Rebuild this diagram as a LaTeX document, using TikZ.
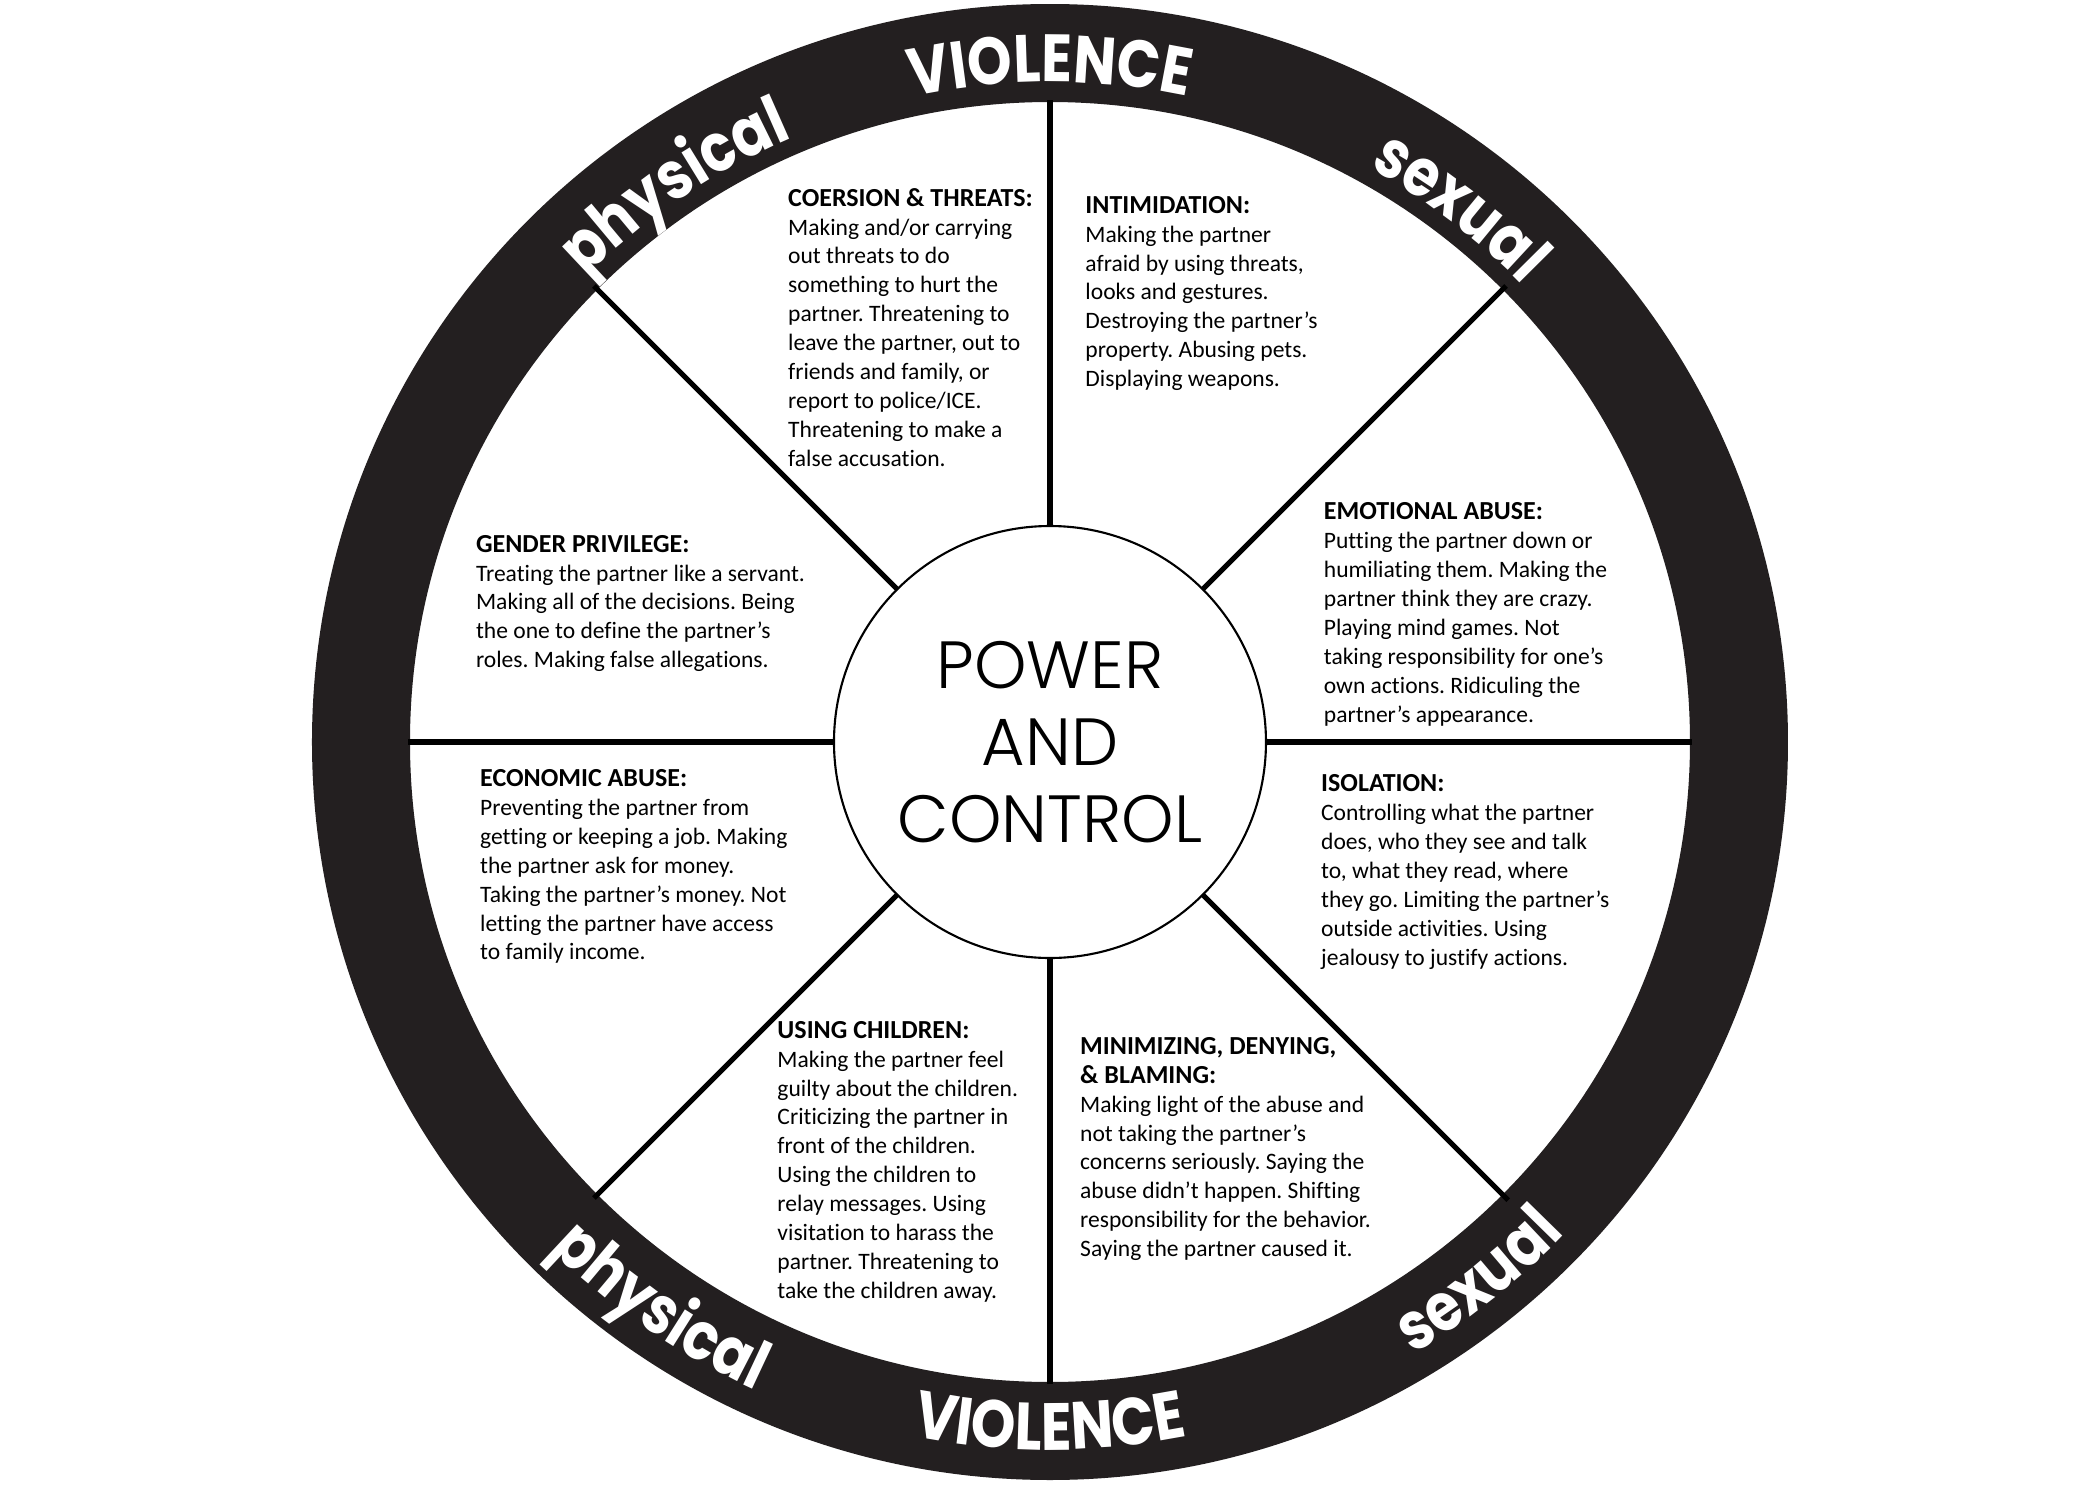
\documentclass[tikz,border=0pt]{standalone}
\usepackage{fontspec}
\setmainfont{Carlito}[Ligatures=NoCommon]
\IfFontExistsTF{Poppins Light}{\newfontfamily\hubfont{Poppins Light}}{\newfontfamily\hubfont{Poppins}}
\newfontfamily\ringfont{Poppins}[FakeStretch=0.85]
\usetikzlibrary{decorations.text}
\definecolor{ringblack}{RGB}{35,31,32}
\newcommand\ringword{\ringfont\bfseries\fontsize{19}{19}\selectfont\color{white}}
\newcommand\head[1]{{\bfseries\fontsize{7.4}{8.22}\selectfont #1}}
\frenchspacing

\begin{document}
\begin{tikzpicture}[
  spoke/.style={line width=1.5pt},
  block/.style={anchor=north west,inner sep=0pt,align=left,font=\fontsize{6.7}{8.22}\selectfont},
  hub/.style={draw,circle,line width=0.6pt,minimum size=4.32cm,inner sep=0pt,outer sep=0pt,
    font=\hubfont\fontsize{19}{21.9}\selectfont,align=center}
]
\useasboundingbox[fill=white] (-10.500,-7.580) rectangle (10.500,7.420);
% black rim
\fill[ringblack,even odd rule] (0,0) circle (7.38) (0,0) circle (6.40);
% hub
\node[hub] (hub) at (0,0) {POWER\\AND\\CONTROL};
\coordinate (rim0) at (0:6.42);
\coordinate (rim45) at (45:6.45);
\coordinate (rim90) at (90:6.42);
\coordinate (rim135) at (135:6.45);
\coordinate (rim180) at (180:6.42);
\coordinate (rim225) at (225:6.45);
\coordinate (rim270) at (270:6.42);
\coordinate (rim315) at (315:6.48);
\draw[spoke] (hub.0) -- (rim0);
\draw[spoke] (hub.45) -- (rim45);
\draw[spoke] (hub.90) -- (rim90);
\draw[spoke] (hub.135) -- (rim135);
\draw[spoke] (hub.180) -- (rim180);
\draw[spoke] (hub.225) -- (rim225);
\draw[spoke] (hub.270) -- (rim270);
\draw[spoke] (hub.315) -- (rim315);
% words on the rim
\path[decorate,decoration={text along path,text align=center,text={|\ringword|VIOLENCE}}] (130:6.60) arc[start angle=130,end angle=50,radius=6.60];
\path[decorate,decoration={text along path,text align=center,text={|\ringword|physical}}] (164:6.57) arc[start angle=164,end angle=84,radius=6.57];
\path[decorate,decoration={text along path,text align=center,text={|\ringword|sexual}}] (92.5:6.57) arc[start angle=92.5,end angle=12.5,radius=6.57];
\path[decorate,decoration={text along path,text align=center,text={|\ringword|VIOLENCE}}] (230:7.08) arc[start angle=230,end angle=310,radius=7.08];
\path[decorate,decoration={text along path,text align=center,text={|\ringword|physical}}] (195.5:7.12) arc[start angle=195.5,end angle=275.5,radius=7.12];
\path[decorate,decoration={text along path,text align=center,text={|\ringword|sexual}}] (268.5:7.12) arc[start angle=268.5,end angle=348.5,radius=7.12];
% the eight fields
\node[block] (coercion) at (-2.625,5.545) {\head{COERSION \& THREATS:}\\Making and/or carrying\\out threats to do\\something to hurt the\\partner. Threatening to\\leave the partner, out to\\friends and family, or\\report to police/ICE.\\Threatening to make a\\false accusation.};
\node[block] (intimidation) at (0.348,5.465) {\head{INTIMIDATION:}\\Making the partner\\afraid by using threats,\\looks and gestures.\\Destroying the partner’s\\property. Abusing pets.\\Displaying weapons.};
\node[block] (emotional) at (2.732,2.398) {\head{EMOTIONAL ABUSE:}\\Putting the partner down or\\humiliating them. Making the\\partner think they are crazy.\\Playing mind games. Not\\taking responsibility for one’s\\own actions. Ridiculing the\\partner’s appearance.};
\node[block] (privilege) at (-5.746,2.076) {\head{GENDER PRIVILEGE:}\\Treating the partner like a servant.\\Making all of the decisions. Being\\the one to define the partner’s\\roles. Making false allegations.};
\node[block] (economic) at (-5.705,-0.268) {\head{ECONOMIC ABUSE:}\\Preventing the partner from\\getting or keeping a job. Making\\the partner ask for money.\\Taking the partner’s money. Not\\letting the partner have access\\to family income.};
\node[block] (isolation) at (2.705,-0.321) {\head{ISOLATION:}\\Controlling what the partner\\does, who they see and talk\\to, what they read, where\\they go. Limiting the partner’s\\outside activities. Using\\jealousy to justify actions.};
\node[block] (children) at (-2.732,-2.785) {\head{USING CHILDREN:}\\Making the partner feel\\guilty about the children.\\Criticizing the partner in\\front of the children.\\Using the children to\\relay messages. Using\\visitation to harass the\\partner. Threatening to\\take the children away.};
\node[block] (minimizing) at (0.295,-2.946) {\head{MINIMIZING, DENYING,}\\\head{\& BLAMING:}\\Making light of the abuse and\\not taking the partner’s\\concerns seriously. Saying the\\abuse didn’t happen. Shifting\\responsibility for the behavior.\\Saying the partner caused it.};
\end{tikzpicture}
\end{document}
